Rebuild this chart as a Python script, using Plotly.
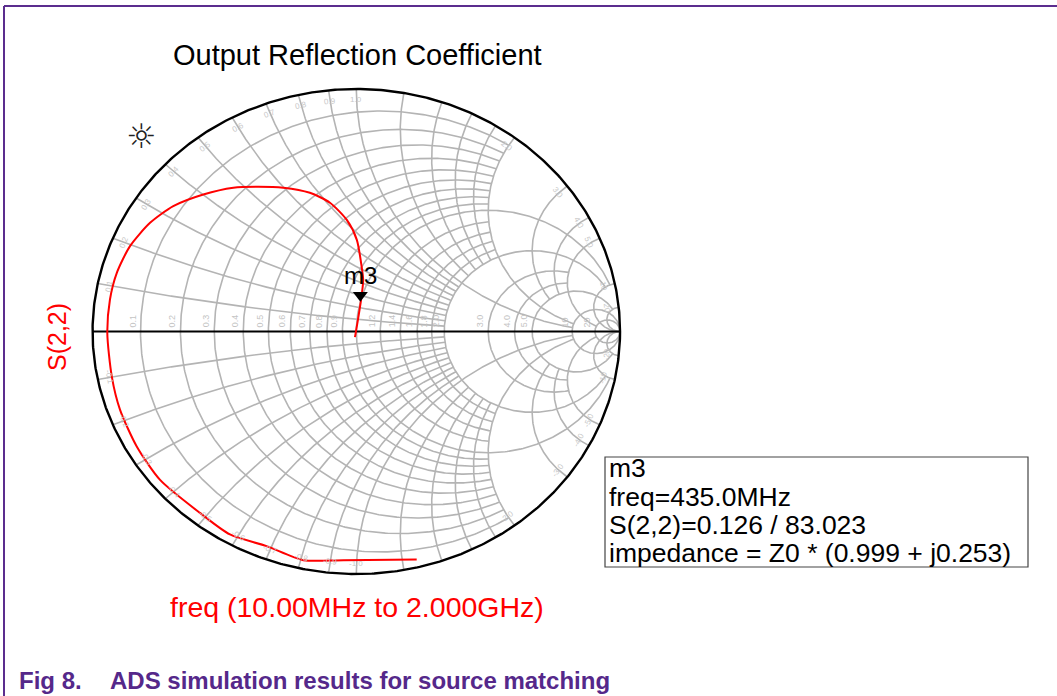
import numpy as np
import plotly.graph_objects as go

# ---------------- data ----------------
# S(2,2) trajectory, reflection coefficient (real, imag)
s22_re = [-0.005, 0.006, 0.018, 0.026, 0.020, 0.002, -0.036, -0.100, -0.176, -0.277,
          -0.378, -0.466, -0.580, -0.694, -0.782, -0.858, -0.908, -0.934, -0.944, -0.927,
          -0.896, -0.833, -0.744, -0.593, -0.479, -0.340, -0.201, -0.049, 0.229]
s22_im = [-0.023, 0.047, 0.130, 0.212, 0.269, 0.378, 0.460, 0.531, 0.572, 0.593,
          0.597, 0.593, 0.565, 0.517, 0.448, 0.352, 0.242, 0.132, -0.007, -0.186,
          -0.322, -0.473, -0.612, -0.748, -0.837, -0.885, -0.943, -0.943, -0.940]

# marker m3
m3_name = "m3"
m3_freq = "435.0MHz"
m3_mag = 0.126
m3_ang_deg = 83.023
m3_z = (0.999, 0.253)

# Smith grid: value -> limit of the orthogonal coordinate (None = full)
r_lines = {0.1: 2.0, 0.2: 2.0, 0.3: 2.0, 0.4: 2.0, 0.5: 2.0, 0.6: 2.0, 0.7: 2.0, 0.8: 2.0,
           0.9: 2.0, 1.0: 10.0, 1.2: 2.0, 1.4: 2.0, 1.6: 2.0, 1.8: 2.0, 2.0: 10.0,
           3.0: 5.0, 4.0: 5.0, 5.0: 20.0, 10.0: None, 20.0: None}
x_lines = {0.1: 2.0, 0.2: 2.0, 0.3: 2.0, 0.4: 2.0, 0.5: 2.0, 0.6: 2.0, 0.7: 2.0, 0.8: 2.0,
           0.9: 2.0, 1.0: 10.0, 1.2: 2.0, 1.4: 2.0, 1.6: 2.0, 1.8: 2.0, 2.0: 10.0,
           3.0: 5.0, 4.0: 5.0, 5.0: 20.0, 10.0: None, 20.0: None}
r_labels = [0.1, 0.2, 0.3, 0.4, 0.5, 0.6, 0.7, 0.8, 0.9, 1.2, 1.4, 1.6, 1.8, 2.0,
            3.0, 4.0, 5.0, 10.0, 20.0]
x_labels = [0.1, 0.2, 0.3, 0.4, 0.5, 0.6, 0.7, 0.8, 0.9, 1.0, 2.0, 3.0, 4.0, 5.0, 10.0, 20.0]

title = "Output Reflection Coefficient"
trace_name = "S(2,2)"
sweep_label = "freq (10.00MHz to 2.000GHz)"
caption_num = "Fig 8."
caption_text = "ADS simulation results for source matching"

# ---------------- geometry ----------------
W, H = 1057, 696
CX, CY = 356.3, 331.5      # chart centre in px
RX, RY = 263.75, 242.5     # chart radii in px

x_range = [-CX / RX, (W - CX) / RX]
y_range = [-(H - CY) / RY, CY / RY]


def px(x):
    return x / W


def py(y):
    return 1 - y / H


def gam(z):
    return (z - 1) / (z + 1)


def r_arc(r, xm=None):
    c = r / (1 + r)
    R = 1 / (1 + r)
    if xm is None:
        phi = np.linspace(0, 2 * np.pi, 500)
    else:
        pm = np.angle(gam(complex(r, xm)) - c)
        phi = np.linspace(pm, 2 * np.pi - pm, 400)
    return list(c + R * np.cos(phi)), list(R * np.sin(phi))


def x_arc(x, rm=None):
    c = complex(1, 1 / x)
    g0 = gam(complex(0, x))
    g1 = gam(complex(rm, x)) if rm is not None else complex(1, 0)
    a0 = np.angle(g0 - c)
    a1 = np.angle(g1 - c)
    d = (a1 - a0 + np.pi) % (2 * np.pi) - np.pi
    a = a0 + d * np.linspace(0, 1, 300)
    p = c + abs(1 / x) * np.exp(1j * a)
    return list(p.real), list(p.imag)


gx, gy = [], []


def add(seg):
    gx.extend(seg[0] + [None])
    gy.extend(seg[1] + [None])


for r, lim in r_lines.items():
    add(r_arc(r, lim))
for x, lim in x_lines.items():
    add(x_arc(x, lim))
    add(x_arc(-x, lim))

fig = go.Figure()
fig.add_trace(go.Scatter(x=gx, y=gy, mode="lines",
                         line=dict(color="#b4b4b4", width=1.6),
                         hoverinfo="skip", showlegend=False))
# real axis
fig.add_trace(go.Scatter(x=[-1, 1], y=[0, 0], mode="lines",
                         line=dict(color="black", width=2),
                         hoverinfo="skip", showlegend=False))
# outer rim
t = np.linspace(0, 2 * np.pi, 720)
fig.add_trace(go.Scatter(x=np.cos(t), y=np.sin(t), mode="lines",
                         line=dict(color="black", width=2.4),
                         hoverinfo="skip", showlegend=False))
# S(2,2)
fig.add_trace(go.Scatter(x=s22_re, y=s22_im, mode="lines",
                         line=dict(color="#ff0000", width=2, shape="spline", smoothing=0.7),
                         name=trace_name, showlegend=False))
# marker
m3g = m3_mag * np.exp(1j * np.deg2rad(m3_ang_deg))
fig.add_trace(go.Scatter(x=[m3g.real], y=[m3g.imag], mode="markers",
                         marker=dict(symbol="triangle-up", size=13, color="black",
                                     angle=180, standoff=6),
                         showlegend=False, hoverinfo="skip"))

ann = []
FONT = "Liberation Sans, Arial, sans-serif"
GRID_TXT = dict(family=FONT, size=9, color="#c4c4c4")


def fmt(v):
    return f"{v:.1f}" if v < 10 else f"{v:.0f}"


# resistance labels along the real axis
for r in r_labels:
    g = (r - 1) / (r + 1)
    ann.append(dict(x=g, y=0, xref="x", yref="y", text=fmt(r),
                    showarrow=False, textangle=-90, xanchor="right", yanchor="bottom",
                    xshift=-1, yshift=2, font=GRID_TXT))
# reactance labels just inside the rim
for x in x_labels:
    for sgn in (1, -1):
        g = gam(complex(0, sgn * x))
        th = np.angle(g)
        gi = 0.955 * g
        ang = 90 - np.degrees(th) if sgn > 0 else -90 - np.degrees(th)
        ann.append(dict(x=gi.real, y=gi.imag, xref="x", yref="y",
                        text=("" if sgn > 0 else "-") + fmt(x), showarrow=False,
                        textangle=ang, xanchor="center", yanchor="middle",
                        font=dict(family=FONT, size=8, color="#c8c8c8")))


def label(x, y, text, size, color="black", angle=0, xa="center", ya="middle", family=FONT):
    ann.append(dict(x=px(x), y=py(y), xref="paper", yref="paper", text=text, showarrow=False,
                    textangle=angle, xanchor=xa, yanchor=ya,
                    font=dict(family=family, size=size, color=color)))


ann.append(dict(x=m3g.real, y=m3g.imag, xref="x", yref="y", text=m3_name, showarrow=False,
                xanchor="center", yanchor="middle", yshift=26,
                font=dict(family=FONT, size=24, color="black")))
label(357, 55, title, 29)
label(57, 337, trace_name, 25, color="#ff0000", angle=-90)
label(357, 607, sweep_label, 28.5, color="#ff0000")
label(141, 136, "\u263c", 34, color="#222222", family="DejaVu Sans")

lines = [m3_name, f"freq={m3_freq}", f"S(2,2)={m3_mag:.3f} / {m3_ang_deg:.3f}",
         f"impedance = Z0 * ({m3_z[0]:.3f} + j{m3_z[1]:.3f})"]
line_y = [467.5, 497.5, 525.0, 552.5]
for s, yy in zip(lines, line_y):
    label(607, yy, s, 26.5, xa="left")

label(17, 680, "<b>" + caption_num + "</b>", 24, color="#55288a", xa="left")
label(108, 680, "<b>" + caption_text + "</b>", 24, color="#55288a", xa="left")

shapes = [
    dict(type="rect", xref="paper", yref="paper", x0=px(605), x1=px(1028), y0=py(457), y1=py(567),
         line=dict(color="#444444", width=1.2)),
    dict(type="line", xref="paper", yref="paper", x0=px(4), x1=px(1057), y0=py(6), y1=py(6),
         line=dict(color="#5b2d8e", width=2)),
    dict(type="line", xref="paper", yref="paper", x0=px(4), x1=px(4), y0=py(6), y1=py(696),
         line=dict(color="#5b2d8e", width=2)),
]

fig.update_layout(
    width=W, height=H, margin=dict(l=0, r=0, t=0, b=0),
    paper_bgcolor="white", plot_bgcolor="white",
    xaxis=dict(range=x_range, visible=False, domain=[0, 1], fixedrange=True),
    yaxis=dict(range=y_range, visible=False, domain=[0, 1], fixedrange=True),
    annotations=ann, shapes=shapes, showlegend=False,
)

fig.write_html("out.html", config={"displayModeBar": False},
               post_script="document.body.style.margin='0px';document.body.style.overflow='hidden';")
